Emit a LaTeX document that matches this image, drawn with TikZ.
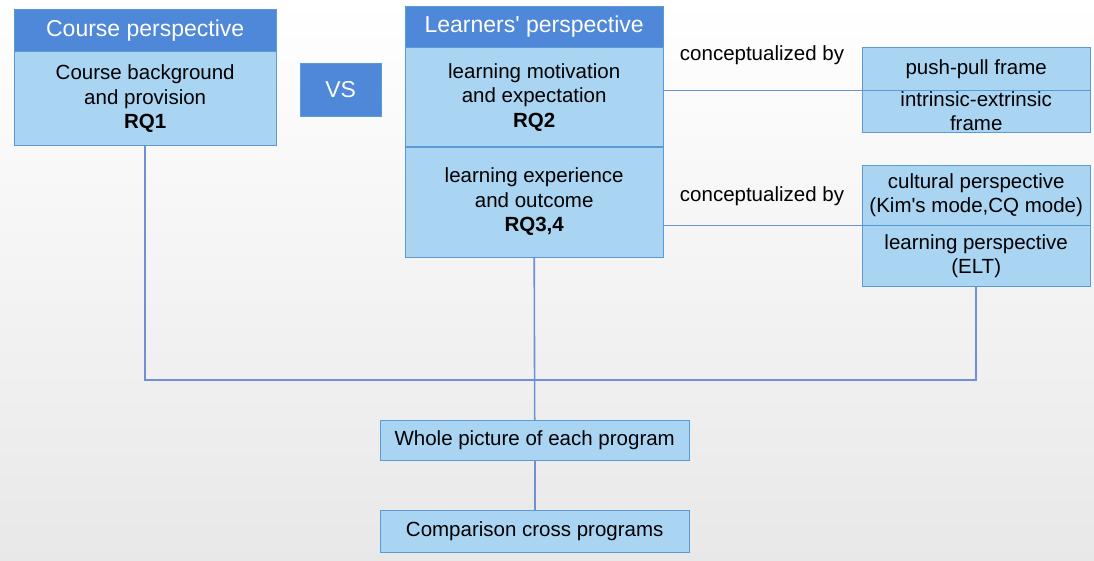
\documentclass[tikz,border=0pt]{standalone}
\usepackage{fontspec}
\setmainfont{Liberation Sans}
\usetikzlibrary{positioning}

\definecolor{headblue}{HTML}{4F87D9}
\definecolor{boxblue}{HTML}{A9D4F2}
\definecolor{edgeblue}{HTML}{5B9BD5}
\definecolor{lineblue}{HTML}{6F8FD6}

\tikzset{
  head/.style={draw=edgeblue,fill=headblue,text=white,inner sep=0pt,
    minimum height=42pt,font=\fontsize{23}{26}\selectfont},
  body/.style={draw=edgeblue,fill=boxblue,inner sep=0pt,align=center,
    font=\fontsize{20.5}{24.5}\selectfont},
  link/.style={draw=lineblue,line width=1.6pt}
}

\begin{document}
\begin{tikzpicture}[x=1pt,y=-1pt]
		\shade[top color=white,bottom color=black!9] (0,0) rectangle (1094,560);
		\useasboundingbox (0,0) rectangle (1094,560);
		
		% course side
		\node[head,minimum width=262pt,anchor=north west] (ch) at (14,9) {Course perspective};
		\node[body,minimum width=262pt,minimum height=94pt,below=0pt of ch] (cb) {Course background\\and provision\\\textbf{RQ1}};
		
		\node[head,minimum width=81pt,minimum height=53pt,anchor=north west] (vs) at (300,63) {VS};
		
		% learners side
		\node[head,minimum width=258pt,minimum height=41pt,anchor=north west] (lh) at (405,6) {Learners\textquotesingle\ perspective};
		\node[body,minimum width=258pt,minimum height=99pt,below=0pt of lh] (lm) {learning motivation\\and expectation\\\textbf{RQ2}};
		\node[body,minimum width=258pt,minimum height=110pt,below=0pt of lm] (le) {learning experience\\and outcome\\\textbf{RQ3,4}};
		
		\node[font=\fontsize{20.5}{24}\selectfont] (c1) at (762,55) {conceptualized by};
		\node[font=\fontsize{20.5}{24}\selectfont] (c2) at (762,196) {conceptualized by};
		
		% frames
		\node[body,minimum width=228pt,minimum height=43pt,anchor=north west] (pp) at (862,47) {push-pull frame};
		\node[body,minimum width=228pt,minimum height=42pt,below=0pt of pp,font=\fontsize{20.5}{24}\selectfont] (ie) {intrinsic-extrinsic\\frame};
		\node[body,minimum width=228pt,minimum height=60pt,anchor=north west] (cp) at (862,165) {cultural perspective\\(Kim\textquotesingle s mode,CQ mode)};
		\node[body,minimum width=228pt,minimum height=61pt,below=0pt of cp] (lp) {learning perspective\\(ELT)};
		
		% bottom
		\node[body,minimum width=309pt,minimum height=40pt,anchor=north west] (wp) at (380,420) {Whole picture of each program};
		\node[body,minimum width=309pt,minimum height=42pt,below=50pt of wp] (cc) {Comparison cross programs};
		
		\coordinate (join) at (535,380);
		
		\draw[link] (pp.south west -| lm.east) -- (pp.south west);
		\draw[link] (cp.south west -| le.east) -- (cp.south west);
		\draw[link] (cb.south) |- (join) -| (lp.south);
		\draw[link] (le.south) -- (wp.north);
		\draw[link] (wp) -- (cc);
	\end{tikzpicture}
\end{document}
